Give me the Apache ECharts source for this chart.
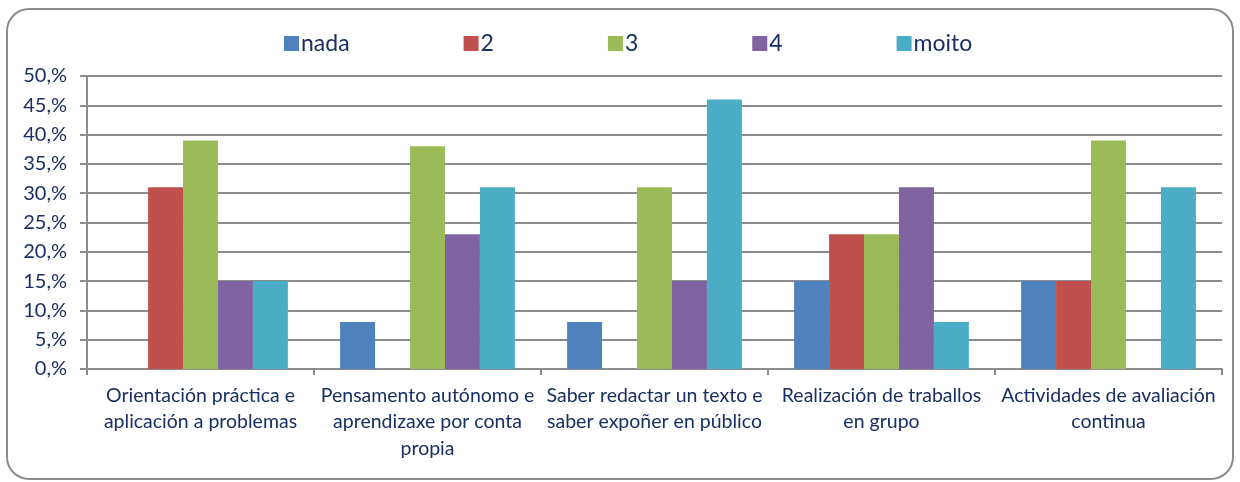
<!DOCTYPE html>
<html>
<head>
<meta charset="utf-8">
<script src="https://cdn.jsdelivr.net/npm/echarts@6/dist/echarts.min.js"></script>
<style>
  html, body { margin: 0; padding: 0; background: #fff; }
  #chart { width: 1240px; height: 482px; }
</style>
</head>
<body>
<div id="chart"></div>
<script>
// Survey items (axis categories), wrapped as they are printed under the axis
const categories = [
  'Orientación práctica e\naplicación a problemas',
  'Pensamento autónomo e\naprendizaxe por conta\npropia',
  'Saber redactar un texto e\nsaber expoñer en público',
  'Realización de traballos\nen grupo',
  'Actividades de avaliación\ncontinua'
];

// Share of answers per rating (percent)
const nada  = [0, 8, 8, 15, 15];
const dous  = [31, 0, 0, 23, 15];
const tres  = [39, 38, 31, 23, 39];
const catro = [15, 23, 15, 31, 0];
const moito = [15, 31, 46, 8, 31];

const seriesNames = ['nada', '2', '3', '4', 'moito'];
const yTickLabels = ['0,%', '5,%', '10,%', '15,%', '20,%', '25,%', '30,%', '35,%', '40,%', '45,%', '50,%'];

const colors = ['#4F81BD', '#C0504D', '#9BBB59', '#8064A2', '#4BACC6'];
const textColor = '#172F62';
const lineColor = '#8C8C8C';
const fontFamily = 'Lato, "Open Sans", sans-serif';

const chart = echarts.init(document.getElementById('chart'), null, { renderer: 'canvas' });

const values = [nada, dous, tres, catro, moito];

chart.setOption({
  animation: false,
  color: colors,
  textStyle: { fontFamily: fontFamily },
  graphic: [{
    type: 'rect',
    shape: { x: 7, y: 9, width: 1226, height: 470, r: 22 },
    style: { fill: 'none', stroke: lineColor, lineWidth: 2 },
    silent: true
  }],
  legend: {
    left: 279,
    top: 27,
    itemWidth: 15,
    itemHeight: 15,
    itemGap: 114,
    icon: 'rect',
    textStyle: { color: textColor, fontSize: 23, fontFamily: fontFamily, padding: [0, 0, 0, -3] },
    data: seriesNames
  },
  grid: { left: 87, right: 18, top: 76, bottom: 113, containLabel: false },
  xAxis: {
    type: 'category',
    data: categories,
    axisLine: { lineStyle: { color: lineColor, width: 2 } },
    axisTick: { show: true, length: 6, alignWithLabel: false, lineStyle: { color: lineColor, width: 2 } },
    axisLabel: {
      color: textColor,
      fontSize: 19.5,
      lineHeight: 26.5,
      margin: 13,
      interval: 0,
      align: 'center'
    },
    splitLine: { show: false }
  },
  yAxis: {
    type: 'value',
    min: 0,
    max: 50,
    interval: 5,
    axisLine: { show: true, lineStyle: { color: lineColor, width: 2 } },
    axisTick: { show: true, length: 7, lineStyle: { color: lineColor, width: 2 } },
    axisLabel: {
      color: textColor,
      fontSize: 20,
      margin: 20,
      formatter: function (v) { return yTickLabels[Math.round(v / 5)]; }
    },
    splitLine: { show: true, lineStyle: { color: lineColor, width: 2 } }
  },
  series: seriesNames.map(function (name, i) {
    return {
      name: name,
      type: 'bar',
      data: values[i],
      barGap: '0%',
      barCategoryGap: '23%',
      itemStyle: { color: colors[i] }
    };
  })
});
</script>
</body>
</html>
